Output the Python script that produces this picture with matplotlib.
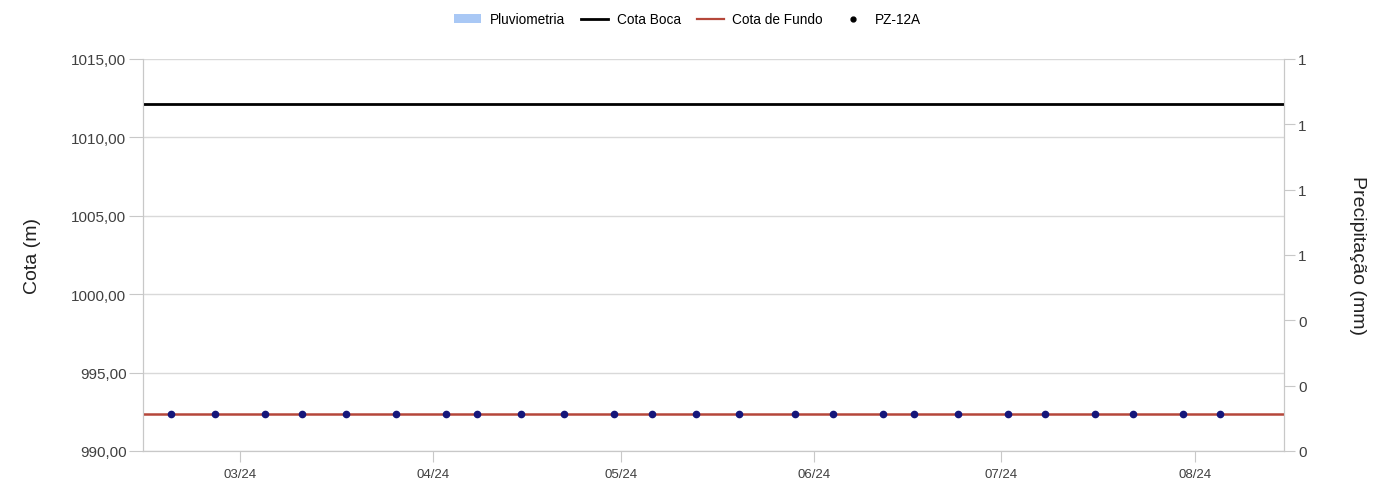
import matplotlib
matplotlib.use("Agg")
import matplotlib.pyplot as plt
import matplotlib.dates as mdates
from matplotlib.lines import Line2D
from matplotlib.patches import Patch
from matplotlib.ticker import FuncFormatter, MultipleLocator
import pandas as pd

plt.rcParams['font.family'] = ['Liberation Sans', 'DejaVu Sans']

# readings of PZ-12A (dry, sits on the bottom level)
pz_dates = pd.to_datetime([
    "2024-02-19", "2024-02-26", "2024-03-05", "2024-03-11", "2024-03-18",
    "2024-03-26", "2024-04-03", "2024-04-08", "2024-04-15", "2024-04-22",
    "2024-04-30", "2024-05-06", "2024-05-13", "2024-05-20", "2024-05-29",
    "2024-06-04", "2024-06-12", "2024-06-17", "2024-06-24", "2024-07-02",
    "2024-07-08", "2024-07-16", "2024-07-22", "2024-07-30", "2024-08-05",
])
pz_cota = [992.35] * len(pz_dates)

cota_boca = 1012.1
cota_fundo = 992.35

x_start = pd.Timestamp("2024-02-14 12:00")
x_end = pd.Timestamp("2024-08-15 06:00")
month_ticks = pd.to_datetime(["2024-03-01", "2024-04-01", "2024-05-01",
                              "2024-06-01", "2024-07-01", "2024-08-01"])

grid_c = '#d9d9d9'
spine_c = '#c8c8c8'
text_c = '#404040'

fig = plt.figure(figsize=(13.89, 4.81), dpi=100)
ax = fig.add_axes([0.103, 0.0603, 0.8214, 0.815])
ax2 = ax.twinx()

ax.axhline(cota_boca, color='black', lw=2, zorder=3)
ax.axhline(cota_fundo, color='#b5473a', lw=1.8, zorder=3)
ax.plot(pz_dates, pz_cota, ls='none', marker='o', ms=4.5, color='#16167a', zorder=4)

ax.set_xlim(x_start, x_end)
ax.set_ylim(990, 1015)
ax.yaxis.set_major_locator(MultipleLocator(5))
ax.yaxis.set_major_formatter(FuncFormatter(lambda v, p: f"{v:.2f}".replace('.', ',')))
ax.set_xticks(month_ticks)
ax.xaxis.set_major_formatter(mdates.DateFormatter('%m/%y'))
ax.grid(axis='y', color=grid_c, lw=1)
ax.set_axisbelow(True)

ax2.set_ylim(0, 1.2)
ax2.yaxis.set_major_locator(MultipleLocator(0.2))
ax2.yaxis.set_major_formatter(FuncFormatter(lambda v, p: f"{v:.0f}"))

for a in (ax, ax2):
    a.spines['top'].set_visible(False)
    for s in ('left', 'right', 'bottom'):
        a.spines[s].set_color(spine_c)

ax.tick_params(axis='y', length=10, color=spine_c, labelsize=11, labelcolor=text_c, pad=2)
ax.tick_params(axis='x', length=8, color=spine_c, labelsize=9.5, labelcolor=text_c, pad=4)
ax2.tick_params(axis='y', length=8, color=spine_c, labelsize=11, labelcolor=text_c, pad=2)

ax.set_ylabel("Cota (m)", fontsize=14, color='#222222', labelpad=22)
ax2.set_ylabel("Precipitação (mm)", fontsize=14, color='#222222', rotation=-90, labelpad=43)

handles = [
    Patch(facecolor='#a9c8f5', edgecolor='none'),
    Line2D([], [], color='black', lw=2),
    Line2D([], [], color='#b5473a', lw=1.6),
    Line2D([], [], ls='none', marker='o', ms=3.5, color='black'),
]
labels = ["Pluviometria", "Cota Boca", "Cota de Fundo", "PZ-12A"]
fig.legend(handles, labels, loc='center', bbox_to_anchor=(0.495, 0.958), ncol=4,
           frameon=False, fontsize=9.8, handlelength=2.0, handleheight=0.6,
           columnspacing=1.2, handletextpad=0.6)

fig.savefig("out.png", dpi=100)
